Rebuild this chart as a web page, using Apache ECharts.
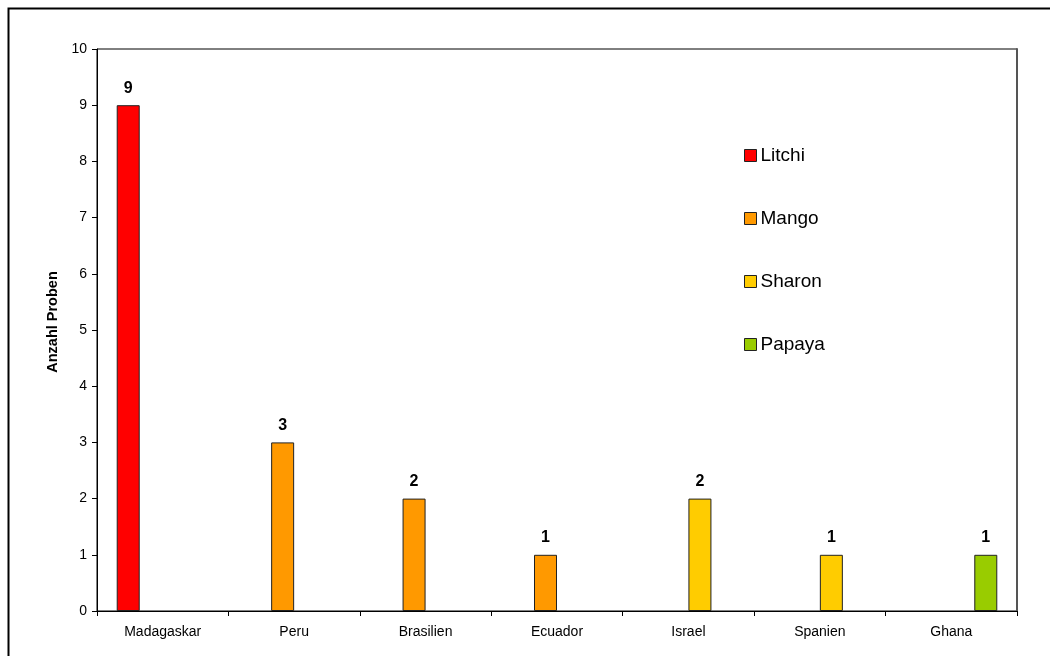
<!DOCTYPE html>
<html>
<head>
<meta charset="utf-8">
<script src="https://cdn.jsdelivr.net/npm/echarts@6/dist/echarts.min.js"></script>
<style>
  html, body { margin: 0; padding: 0; background: #fff; }
  #chart { width: 1050px; height: 656px; }
</style>
</head>
<body>
<div id="chart"></div>
<script>
// Herkunftsländer und Anzahl der Proben je Fruchtart
const countries = ['Madagaskar', 'Peru', 'Brasilien', 'Ecuador', 'Israel', 'Spanien', 'Ghana'];
const litchi = [9, null, null, null, null, null, null];
const mango  = [null, 3, 2, 1, null, null, null];
const sharon = [null, null, null, null, 2, 1, null];
const papaya = [null, null, null, null, null, null, 1];
const yTicks = [0, 10, 1]; // min, max, interval

const FONT = '"Liberation Sans", Arial, sans-serif';

function barSeries(name, data, color) {
  return {
    name: name,
    type: 'bar',
    data: data,
    barWidth: 23,
    barGap: '0%',
    itemStyle: { color: color, borderColor: '#222', borderWidth: 1 },
    label: {
      show: true,
      position: 'top',
      distance: 9,
      color: '#000',
      fontFamily: FONT,
      fontWeight: 'bold',
      fontSize: 16
    }
  };
}

const chart = echarts.init(document.getElementById('chart'), null, { renderer: 'canvas' });
chart.setOption({
  backgroundColor: '#fff',
  animation: false,
  graphic: [{
    type: 'rect',
    shape: { x: 8.5, y: 8.5, width: 1200, height: 800 },
    style: { fill: 'none', stroke: '#000', lineWidth: 2 },
    silent: true,
    z: -10
  }],
  grid: {
    left: 97, right: 33, top: 49, bottom: 45,
    show: true, borderColor: '#000', borderWidth: 1, backgroundColor: '#fff'
  },
  legend: {
    orient: 'vertical',
    left: 744,
    top: 146,
    padding: 0,
    itemWidth: 12,
    itemHeight: 12,
    itemGap: 44,
    icon: 'rect',
    textStyle: { fontFamily: FONT, fontSize: 19, color: '#000', padding: [0, 0, 0, -1] },
    itemStyle: { borderColor: '#222', borderWidth: 1 },
    data: ['Litchi', 'Mango', 'Sharon', 'Papaya']
  },
  xAxis: {
    type: 'category',
    data: countries,
    axisLine: { lineStyle: { color: '#000', width: 1 } },
    axisTick: { show: true, length: 5, lineStyle: { color: '#000' } },
    axisLabel: { fontFamily: FONT, fontSize: 14, color: '#000', margin: 14 }
  },
  yAxis: [{
    type: 'value',
    min: yTicks[0],
    max: yTicks[1],
    interval: yTicks[2],
    name: 'Anzahl Proben',
    nameLocation: 'middle',
    nameGap: 31,
    nameTextStyle: {
      fontFamily: FONT, fontSize: 14.5, fontWeight: 'bold', color: '#000',
      padding: [0, 0, 0, 16]
    },
    axisLine: { show: true, lineStyle: { color: '#000', width: 1 } },
    axisTick: { show: true, length: 5, lineStyle: { color: '#000' } },
    axisLabel: { fontFamily: FONT, fontSize: 14, color: '#000', margin: 10 },
    splitLine: { show: false }
  }, {
    type: 'value',
    position: 'right',
    min: 0, max: 1,
    axisLine: { show: true, lineStyle: { color: '#555', width: 2 } },
    axisTick: { show: false },
    axisLabel: { show: false },
    splitLine: { show: false }
  }],
  series: [
    barSeries('Litchi', litchi, '#FF0000'),
    barSeries('Mango', mango, '#FF9900'),
    barSeries('Sharon', sharon, '#FFCC00'),
    barSeries('Papaya', papaya, '#99CC00')
  ]
});
</script>
</body>
</html>
